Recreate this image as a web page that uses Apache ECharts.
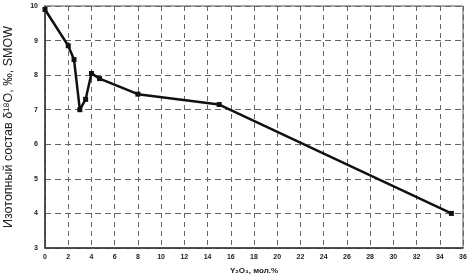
<!DOCTYPE html>
<html><head><meta charset="utf-8">
<script src="https://cdn.jsdelivr.net/npm/echarts@6/dist/echarts.min.js"></script>
<style>html,body{margin:0;padding:0;background:#fff}#c{width:468px;height:279px}</style>
</head><body><div id="c"></div>
<script>
const xValues = [0, 2, 2.5, 3, 3.5, 4, 4.7, 8, 15, 35];
const yValues = [9.9, 8.85, 8.45, 7.0, 7.3, 8.05, 7.9, 7.45, 7.15, 4.0];
const xAxisName = 'Y\u2082O\u2083, мол.%';
const yAxisName = 'Изотопный состав δ\u00b9\u2078O, ‰, SMOW';

const chart = echarts.init(document.getElementById('c'), null, {renderer: 'canvas'});
chart.setOption({
  animation: false,
  backgroundColor: '#fff',
  grid: {left: 45, right: 5, top: 6, bottom: 31, show: true, borderColor: '#555', borderWidth: 1,
         containLabel: false, outerBoundsMode: 'none'},
  xAxis: {
    type: 'value', min: 0, max: 36, interval: 2,
    name: xAxisName, nameLocation: 'middle', nameGap: 19,
    nameTextStyle: {fontFamily: 'Liberation Sans', fontSize: 8, fontWeight: 'bold', color: '#222'},
    axisLine: {lineStyle: {color: '#333', width: 1.5}},
    axisTick: {show: false},
    axisLabel: {fontFamily: 'Liberation Sans', fontSize: 7, fontWeight: 'bold', color: '#222', margin: 6},
    splitLine: {show: true, lineStyle: {color: '#666', type: [5, 4], width: 1}}
  },
  yAxis: {
    type: 'value', min: 3, max: 10, interval: 1,
    name: yAxisName, nameLocation: 'middle', nameGap: 30, nameRotate: 90,
    nameTextStyle: {fontFamily: 'Liberation Sans', fontSize: 12.5, color: '#222'},
    axisLine: {show: true, lineStyle: {color: '#333', width: 1.5}},
    axisTick: {show: false},
    axisLabel: {fontFamily: 'Liberation Sans', fontSize: 7, fontWeight: 'bold', color: '#222', margin: 7},
    splitLine: {show: true, lineStyle: {color: '#666', type: [6, 4], width: 1}}
  },
  series: [{
    type: 'line',
    data: xValues.map((x, i) => [x, yValues[i]]),
    symbol: 'rect', symbolSize: 5, showSymbol: true,
    lineStyle: {color: '#111', width: 2.5},
    itemStyle: {color: '#111'}
  }]
});
</script></body></html>
